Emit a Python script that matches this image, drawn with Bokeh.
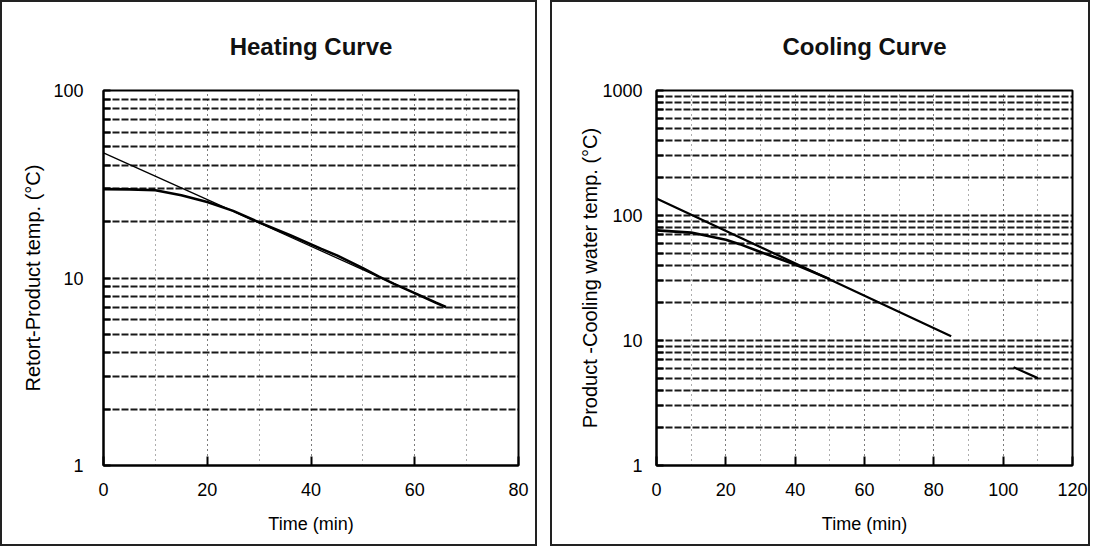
from bokeh.plotting import figure
from bokeh.models import Range1d, FixedTicker, NumeralTickFormatter
from bokeh.layouts import row
from bokeh.embed import file_html
from bokeh.resources import INLINE

NAN = float("nan")

# ---- Heating curve data ----
heat_time = [0, 5, 10, 15, 20, 25, 30, 36, 42, 45, 50, 53, 56, 60, 64, 66]
heat_product = [29.8, 29.7, 29.4, 27.6, 25.4, 22.8, 19.8, 16.9, 14.3, 13.2, 11.3, 10.2, 9.3, 8.3, 7.4, 7.0]
heat_fit_time = [0, 66]
heat_fit = [46.5, 7.0]

# ---- Cooling curve data ----
cool_time = [0, 10, 20, 24, 30, 40, 50]
cool_product = [76, 73, 64, 59, 51, 40.5, 31]
cool_fit_time = [0, 85, NAN, 103, 110]
cool_fit = [137, 10.8, NAN, 6.1, 5.0]

heat_xticks = [0, 20, 40, 60, 80]
cool_xticks = [0, 20, 40, 60, 80, 100, 120]
heat_yticks = [1, 10, 100]
cool_yticks = [1, 10, 100, 1000]

FONT = "Liberation Sans"


def minor_log(decades):
    out = []
    for d in decades:
        out += [m * d for m in range(2, 10)]
    return out


def panel(title, width, mbl, mbr, xmax, xticks, ymax, yticks, ylabel, ylab_standoff, tick_standoff):
    p = figure(
        width=width, height=546, output_backend="svg", toolbar_location=None,
        x_range=Range1d(0, xmax), y_range=Range1d(1, ymax), y_axis_type="log",
        min_border_left=mbl, min_border_right=mbr, min_border_top=88, min_border_bottom=83,
        title=title, styles={"border": "2px solid #222", "box-sizing": "border-box"},
    )
    p.title.align = "center"
    p.title.vertical_align = "top"
    p.title.text_font = FONT
    p.title.text_font_size = "24px"
    p.title.text_font_style = "bold"
    p.title.text_color = "#111"
    p.title.standoff = 58

    p.outline_line_color = "black"
    p.outline_line_width = 2
    p.outline_line_alpha = 1

    # x axis
    p.xaxis.ticker = FixedTicker(ticks=xticks, minor_ticks=list(range(0, xmax + 1, 10)))
    p.xaxis.axis_label = "Time (min)"
    p.xaxis.axis_label_text_font = FONT
    p.xaxis.axis_label_text_font_size = "18px"
    p.xaxis.axis_label_text_font_style = "normal"
    p.xaxis.axis_label_standoff = 15
    p.xaxis.major_label_text_font = FONT
    p.xaxis.major_label_text_font_size = "18px"
    p.xaxis.major_label_standoff = 17
    p.xaxis.major_tick_in = 9
    p.xaxis.major_tick_out = 0
    p.xaxis.minor_tick_in = 0
    p.xaxis.minor_tick_out = 0

    # y axis
    p.yaxis.ticker = FixedTicker(ticks=yticks, minor_ticks=minor_log(yticks[:-1]))
    p.yaxis.formatter = NumeralTickFormatter(format="0")
    p.yaxis.axis_label = ylabel
    p.yaxis.axis_label_text_font = FONT
    p.yaxis.axis_label_text_font_size = "20px"
    p.yaxis.axis_label_text_font_style = "normal"
    p.yaxis.axis_label_standoff = ylab_standoff
    p.yaxis.major_label_text_font = FONT
    p.yaxis.major_label_text_font_size = "18px"
    p.yaxis.major_label_standoff = tick_standoff
    p.yaxis.major_tick_in = 7
    p.yaxis.major_tick_out = 0
    p.yaxis.minor_tick_in = 7
    p.yaxis.minor_tick_out = 0

    for ax in (p.xaxis, p.yaxis):
        ax.axis_line_width = 2
        ax.axis_line_color = "black"
        ax.major_tick_line_width = 2
        ax.minor_tick_line_width = 2
        ax.major_label_text_color = "black"
        ax.axis_label_text_color = "black"

    # grids
    for attr in ("grid_line", "minor_grid_line"):
        setattr(p.ygrid, attr + "_color", "black")
        setattr(p.ygrid, attr + "_width", 1.8)
        setattr(p.ygrid, attr + "_dash", "7 2")
        setattr(p.ygrid, attr + "_alpha", 0.9)
        setattr(p.xgrid, attr + "_color", "#333")
        setattr(p.xgrid, attr + "_width", 1)
        setattr(p.xgrid, attr + "_dash", "1 4")
        setattr(p.xgrid, attr + "_alpha", 0.8)
    return p


left = panel("Heating Curve", 537, 101, 21, 80, heat_xticks, 100, heat_yticks,
             "Retort-Product temp. (°C)", 6, 20)
left.line(heat_fit_time, heat_fit, line_color="black", line_width=1.3)
left.line(heat_time, heat_product, line_color="black", line_width=2.6)

right = panel("Cooling Curve", 540, 104, 20, 120, cool_xticks, 1000, cool_yticks,
              "Product -Cooling water temp. (°C)", -2, 14)
right.line(cool_fit_time, cool_fit, line_color="black", line_width=2.2)
right.line(cool_time, cool_product, line_color="black", line_width=2.6)

layout = row(left, right, spacing=13)

open("out.html", "w").write(file_html(layout, INLINE))
